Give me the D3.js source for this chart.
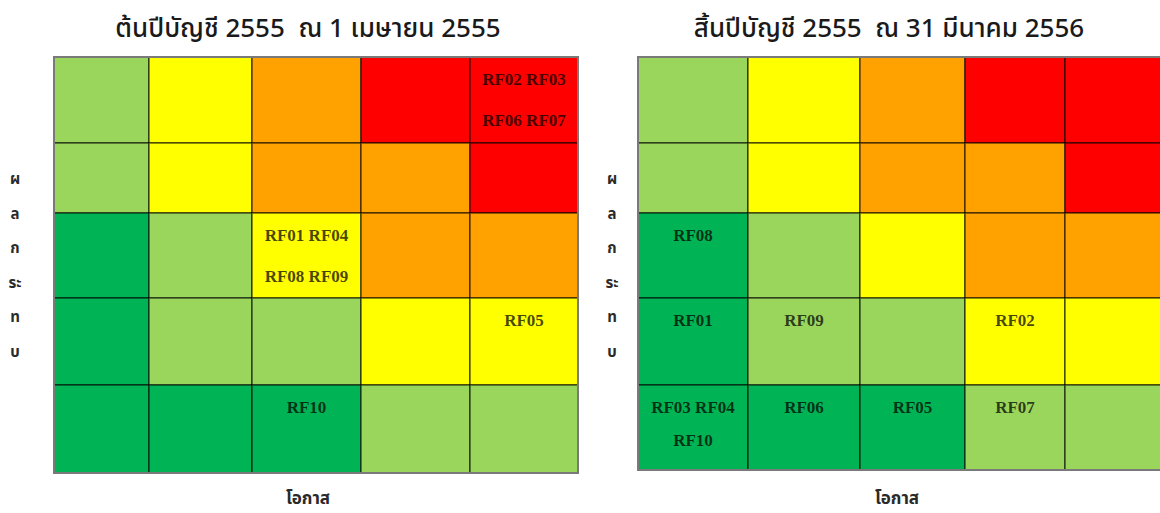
<!DOCTYPE html>
<html lang="th">
<head>
<meta charset="UTF-8">
<title>Risk map</title>
<script src="https://d3js.org/d3.v7.min.js"></script>
<style>
    body { margin: 0; background: #fff; }
    .title { font-family: "Noto Sans Thai", Tahoma, "Noto Sans", sans-serif; font-size: 26px; font-weight: 500; fill: #1a1a1a; }
    .axis-label { font-family: "Noto Sans Thai", Tahoma, "Noto Sans", sans-serif; font-size: 17px; font-weight: bold; fill: #2a2a2a; }
    .risk { font-family: "Liberation Serif", "Times New Roman", serif; font-size: 17px; font-weight: bold; fill: #000; fill-opacity: 0.72; }
</style>
</head>
<body>
<svg id="chart" width="1160" height="513"></svg>
<script>

// data
const likelihood = [1, 2, 3, 4, 5];          // columns, left to right
const impact = [5, 4, 3, 2, 1];              // rows, top to bottom
// risk level of each cell, rows = impact 5..1, cols = likelihood 1..5
const levelRows = [
    [2, 3, 4, 5, 5],
    [2, 3, 4, 4, 5],
    [1, 2, 3, 4, 4],
    [1, 2, 2, 3, 3],
    [1, 1, 1, 2, 2]
];
const titles = ['ต้นปีบัญชี 2555  ณ 1 เมษายน 2555', 'สิ้นปีบัญชี 2555  ณ 31 มีนาคม 2556'];
const xTitle = 'โอกาส';
const yTitle = ['ผ', 'ล', 'ก', 'ระ', 'ท', 'บ'];
// risks placed in cells: [likelihood, impact, lines of text]
const risksStart = [
    [5, 5, ['RF02 RF03', 'RF06 RF07']],
    [3, 3, ['RF01 RF04', 'RF08 RF09']],
    [5, 2, ['RF05']],
    [3, 1, ['RF10']]
];
const risksEnd = [
    [1, 3, ['RF08']],
    [1, 2, ['RF01']],
    [2, 2, ['RF09']],
    [4, 2, ['RF02']],
    [1, 1, ['RF03 RF04', 'RF10']],
    [2, 1, ['RF06']],
    [3, 1, ['RF05']],
    [4, 1, ['RF07']]
];

const levelColor = d3.scaleOrdinal()
    .domain([1, 2, 3, 4, 5])
    .range(['#00b455', '#9bd65c', '#ffff00', '#ffa200', '#ff0000']);

const svg = d3.select('#chart');

// the table cells are not all the same size, so use polylinear scales on the edges
const panels = [
    { title: titles[0], risks: risksStart, cx: 308, yLabelX: 15,
      xEdges: [54, 149, 252, 361, 470, 578], yEdges: [57, 143, 213, 298, 385, 473], lineGap: 41, xLabelX: 308 },
    { title: titles[1], risks: risksEnd, cx: 889, yLabelX: 612,
      xEdges: [638, 748, 860, 965, 1065, 1170], yEdges: [57, 143, 213, 298, 385, 470], lineGap: 33, xLabelX: 897 }
];

panels.forEach(p => {
    const x = d3.scaleLinear().domain([0.5, 1.5, 2.5, 3.5, 4.5, 5.5]).range(p.xEdges);
    const y = d3.scaleLinear().domain([5.5, 4.5, 3.5, 2.5, 1.5, 0.5]).range(p.yEdges);
    const g = svg.append('g');

    const cells = [];
    impact.forEach((im, r) => likelihood.forEach((lk, c) => cells.push({ lk, im, level: levelRows[r][c] })));

    g.selectAll('rect.cell')
        .data(cells)
        .enter()
        .append('rect')
        .attr('class', 'cell')
        .attr('x', d => x(d.lk - 0.5))
        .attr('y', d => y(d.im + 0.5))
        .attr('width', d => x(d.lk + 0.5) - x(d.lk - 0.5))
        .attr('height', d => y(d.im - 0.5) - y(d.im + 0.5))
        .style('fill', d => levelColor(d.level))
        .style('stroke', 'rgba(0,0,0,0.6)')
        .style('stroke-width', 1.5);

    // outer frame
    g.append('rect')
        .attr('x', x(0.5))
        .attr('y', y(5.5))
        .attr('width', x(5.5) - x(0.5))
        .attr('height', y(0.5) - y(5.5))
        .style('fill', 'none')
        .style('stroke', '#7a7a7a')
        .style('stroke-width', 2);

    // risk codes
    p.risks.forEach(([lk, im, lines]) => {
        g.selectAll(null)
            .data(lines)
            .enter()
            .append('text')
            .attr('class', 'risk')
            .attr('x', x(lk))
            .attr('y', (d, i) => y(im + 0.5) + 28 + i * p.lineGap)
            .attr('text-anchor', 'middle')
            .text(d => d);
    });

    // title
    svg.append('text')
        .attr('class', 'title')
        .attr('x', p.cx)
        .attr('y', 37)
        .attr('text-anchor', 'middle')
        .style('white-space', 'pre')
        .text(p.title);

    // x label
    svg.append('text')
        .attr('class', 'axis-label')
        .attr('x', p.xLabelX)
        .attr('y', 504)
        .attr('text-anchor', 'middle')
        .text(xTitle);

    // stacked y label
    svg.selectAll(null)
        .data(yTitle)
        .enter()
        .append('text')
        .attr('class', 'axis-label')
        .attr('x', p.yLabelX)
        .attr('y', (d, i) => 184 + i * 34.5)
        .attr('text-anchor', 'middle')
        .style('font-size', '15px')
        .text(d => d);
});

</script>
</body>
</html>
